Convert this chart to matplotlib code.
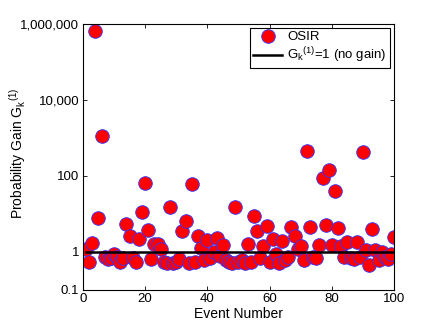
import matplotlib as mpl
mpl.use('Agg')
import matplotlib.pyplot as plt
import numpy as np
from matplotlib.ticker import FixedLocator, FixedFormatter, NullLocator

plt.rcParams['font.family'] = ['Liberation Sans', 'DejaVu Sans']
plt.rcParams['mathtext.fontset'] = 'custom'
plt.rcParams['mathtext.rm'] = 'Liberation Sans'
plt.rcParams['mathtext.it'] = 'Liberation Sans'

# probability gain per event (events 1..100)
events = np.arange(1, 101)
gain = [1.2, 0.55, 1.75, 650000, 8, 1100, 0.75, 0.65, 0.7, 0.9,
        0.75, 0.55, 0.7, 5.6, 2.7, 0.7, 0.55, 2.2, 11, 66,
        3.8, 0.65, 1.6, 1.6, 1.2, 0.55, 0.5, 15, 0.5, 0.55,
        0.65, 3.6, 6.5, 0.5, 60, 0.55, 2.7, 1.3, 0.6, 2.1,
        0.7, 1.0, 2.4, 0.8, 1.5, 0.6, 0.55, 0.5, 15, 0.55,
        0.6, 0.5, 1.6, 0.55, 9, 3.6, 0.7, 1.4, 4.8, 0.55,
        2.2, 0.9, 0.5, 2.0, 0.6, 0.75, 4.5, 2.6, 1.2, 1.4,
        0.6, 440, 4.6, 0.75, 0.7, 1.5, 87, 5.1, 144, 1.5,
        40, 4.2, 1.4, 0.75, 1.8, 0.7, 0.65, 1.8, 0.75, 430,
        1.15, 0.45, 4.0, 1.1, 0.6, 1.0, 0.75, 0.65, 0.9, 2.5]

yticks = [0.1, 1, 100, 10000, 1000000]
ytick_labels = ['0.1', '1', '100', '10,000', '1,000,000']
xticks = [0, 20, 40, 60, 80, 100]

fig = plt.figure(figsize=(4.36, 3.28), dpi=100)
ax = fig.add_axes([0.19, 0.116, 0.714, 0.811])

ax.plot(events, gain, 'o', color='red', markeredgecolor='#3333ff',
        markeredgewidth=0.6, markersize=9.8, label='OSIR', zorder=2)
ax.plot([1, 100], [1, 1], color='black', linewidth=1.8,
        label=r'G$_k$$^{(1)}$=1 (no gain)', zorder=3)

ax.set_yscale('log')
ax.set_xlim(0, 100)
ax.set_ylim(0.1, 1e6)
ax.yaxis.set_major_locator(FixedLocator(yticks))
ax.yaxis.set_major_formatter(FixedFormatter(ytick_labels))
ax.yaxis.set_minor_locator(NullLocator())
ax.set_xticks(xticks)
ax.tick_params(direction='in', top=True, right=True, labelsize=9.5,
               length=3, width=0.6, pad=2.5)
for s in ax.spines.values():
    s.set_linewidth(0.8)

ax.set_xlabel('Event Number', fontsize=10, labelpad=1)
ax.set_ylabel(r'Probability Gain G$_k$$^{(1)}$', fontsize=10)
ax.yaxis.set_label_coords(-0.175, 0.515)

leg = ax.legend(loc='upper right', fontsize=9.5, fancybox=False,
                framealpha=1, edgecolor='black', borderpad=0.25,
                handletextpad=0.4, labelspacing=0.15, handlelength=2.2,
                borderaxespad=0.3)
leg.get_frame().set_linewidth(0.8)

plt.savefig('out.png', dpi=100)
